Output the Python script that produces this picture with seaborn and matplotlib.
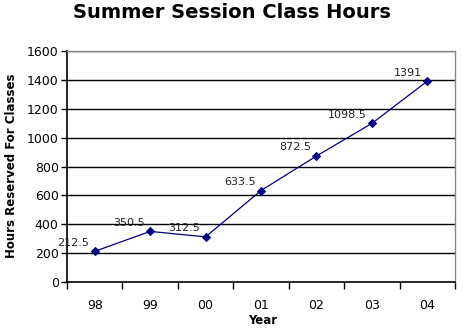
import matplotlib
matplotlib.use("Agg")
import matplotlib.pyplot as plt
import seaborn as sns
import pandas as pd

years = ["98", "99", "00", "01", "02", "03", "04"]
hours = [212.5, 350.5, 312.5, 633.5, 872.5, 1098.5, 1391]
labels = ["212.5", "350.5", "312.5", "633.5", "872.5", "1098.5", "1391"]

sns.set_style("white")
plt.rcParams['font.family'] = ['DejaVu Sans']
plt.rcParams['text.color'] = 'black'
plt.rcParams['xtick.color'] = 'black'
plt.rcParams['ytick.color'] = 'black'

df = pd.DataFrame({"pos": list(range(len(years))), "hours": hours})

fig = plt.figure(figsize=(4.64, 3.33), dpi=100)
ax = fig.add_axes([67/464, 1-282/333, (455-67)/464, (282-51)/333])

for y in range(200, 1601, 200):
    ax.axhline(y, color="black", lw=1.0, zorder=1)

sns.lineplot(data=df, x="pos", y="hours", ax=ax, color="#000080", lw=0.9,
             marker="D", markersize=4, markeredgecolor="#000080", zorder=3)

for i, (v, t) in enumerate(zip(hours, labels)):
    ax.text(i - 0.1, v + 25, t, ha="right", va="bottom", fontsize=8, color="#222222")

ax.set_xlim(-0.5, len(years) - 0.5)
ax.set_ylim(0, 1600)
ax.set_yticks(range(0, 1601, 200))
ax.set_yticklabels([str(v) for v in range(0, 1601, 200)], fontsize=9)
ax.set_xticks(range(len(years)))
ax.set_xticklabels(years, fontsize=9)
ax.set_xticks([i - 0.5 for i in range(len(years) + 1)], minor=True)
ax.tick_params(axis="x", which="major", length=0, pad=12, bottom=True)
ax.tick_params(axis="x", which="minor", length=5, width=1, color="black",
               direction="out", bottom=True)
ax.tick_params(axis="y", which="major", length=4, width=1, color="black",
               direction="out", pad=2, left=True)

for side in ["top", "right"]:
    ax.spines[side].set_color("#888888")
    ax.spines[side].set_linewidth(1)
for side in ["left", "bottom"]:
    ax.spines[side].set_color("black")
    ax.spines[side].set_linewidth(1.2)

ax.set_xlabel("")
ax.set_ylabel("")
fig.text(0.5, 0.962, "Summer Session Class Hours", ha="center", va="center",
         fontsize=14, fontweight="bold", color="black")
fig.text(12/464, 1-166/333, "Hours Reserved For Classes", rotation=90, ha="center",
         va="center", fontsize=8.5, fontweight="bold", color="black")
fig.text(263/464, 1-321/333, "Year", ha="center", va="center", fontsize=8.5,
         fontweight="bold", color="black")

fig.savefig("out.png", dpi=100)
